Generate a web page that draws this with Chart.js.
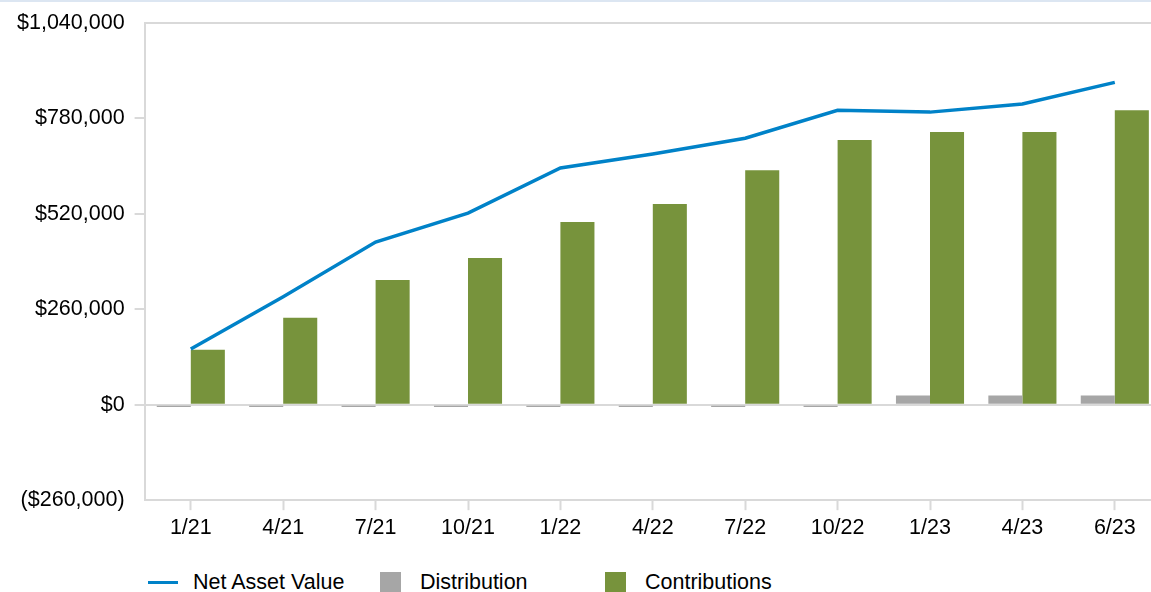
<!DOCTYPE html>
<html>
<head>
<meta charset="utf-8">
<script src="https://cdn.jsdelivr.net/npm/chart.js@4"></script>
<style>
  html, body { margin: 0; padding: 0; background: #fff; overflow: hidden; }
  body { width: 1151px; height: 592px; position: relative; font-family: "Liberation Sans", Arial, sans-serif; }
  .topline { position: absolute; left: 0; top: 0; width: 1151px; height: 2px; background: #dce6f2; }
  .wrap { position: absolute; left: 0; top: 0; width: 1162px; height: 546px; }
  .legend { position: absolute; left: 148px; top: 570px; display: flex; font-size: 21.5px; color: #000; }
  .legend .item { display: flex; align-items: center; height: 24px; }
  .legend .line { width: 30px; height: 3px; background: #0082c8; margin-right: 15px; }
  .legend .box { width: 21px; height: 21px; margin-right: 19px; }
</style>
</head>
<body>
<div class="topline"></div>
<div class="wrap"><canvas id="nav-chart" width="1162" height="546"></canvas></div>
<div class="legend">
  <div class="item" style="width:232px"><span class="line"></span>Net Asset Value</div>
  <div class="item" style="width:225px"><span class="box" style="background:#a6a6a6"></span>Distribution</div>
  <div class="item"><span class="box" style="background:#77933c"></span>Contributions</div>
</div>
<script>
const labels = ['1/21', '4/21', '7/21', '10/21', '1/22', '4/22', '7/22', '10/22', '1/23', '4/23', '6/23'];
const navValues = [152000, 294000, 443000, 522000, 645000, 683000, 726000, 802000, 797000, 819000, 878000];
const distributions = [-6000, -6000, -6000, -6000, -6000, -6000, -6000, -6000, 25000, 25000, 25000];
const contributions = [150000, 237000, 340000, 400000, 498000, 547000, 639000, 721000, 743000, 743000, 802000];
const yTicks = [-260000, 0, 260000, 520000, 780000, 1040000];

const gridGrey = '#d9d9d9';
const fontSpec = { family: '"Liberation Sans", Arial', size: 21.5 };

function money(v) {
  const s = '$' + Math.abs(v).toLocaleString('en-US');
  return v < 0 ? '(' + s + ')' : s;
}

// top border of the plot area
const topBorder = {
  id: 'topBorder',
  afterDraw(chart) {
    const a = chart.chartArea;
    const c = chart.ctx;
    c.save();
    c.strokeStyle = gridGrey;
    c.lineWidth = 2;
    c.beginPath();
    c.moveTo(a.left, a.top);
    c.lineTo(a.right, a.top);
    c.stroke();
    c.restore();
  }
};

const ctx = document.getElementById('nav-chart').getContext('2d');
const config = {
  type: 'bar',
  data: {
    labels: labels,
    datasets: [
      {
        type: 'line',
        label: 'Net Asset Value',
        data: navValues,
        borderColor: '#0082c8',
        backgroundColor: '#0082c8',
        borderWidth: 3.5,
        pointRadius: 0,
        tension: 0,
        order: 0
      },
      {
        label: 'Distribution',
        data: distributions,
        backgroundColor: '#a6a6a6',
        categoryPercentage: 0.737,
        barPercentage: 1,
        order: 1
      },
      {
        label: 'Contributions',
        data: contributions,
        backgroundColor: '#77933c',
        categoryPercentage: 0.737,
        barPercentage: 1,
        order: 1
      }
    ]
  },
  options: {
    responsive: false,
    animation: false,
    layout: { padding: { left: 7, right: 1, top: 12, bottom: 0 } },
    plugins: {
      legend: { display: false },
      tooltip: { enabled: false }
    },
    scales: {
      x: {
        offset: true,
        grid: {
          offset: false,
          drawOnChartArea: false,
          tickLength: 10,
          tickColor: gridGrey,
          tickWidth: 2
        },
        border: { color: gridGrey, width: 2 },
        ticks: {
          color: '#000',
          padding: 5,
          font: fontSpec
        }
      },
      y: {
        min: -260000,
        max: 1040000,
        afterBuildTicks: (axis) => { axis.ticks = yTicks.map(v => ({ value: v })); },
        grid: {
          color: (c) => (c.tick && c.tick.value === 0 ? gridGrey : 'transparent'),
          lineWidth: 2,
          tickLength: 10,
          tickWidth: 2,
          tickColor: (c) => (c.tick && (c.tick.value === 1040000 || c.tick.value === -260000) ? 'transparent' : gridGrey)
        },
        border: { color: gridGrey, width: 2 },
        ticks: {
          color: '#000',
          padding: 10,
          font: fontSpec,
          callback: (value) => money(value)
        }
      }
    }
  },
  plugins: [topBorder]
};

const navChart = new Chart(ctx, config);
</script>
</body>
</html>
